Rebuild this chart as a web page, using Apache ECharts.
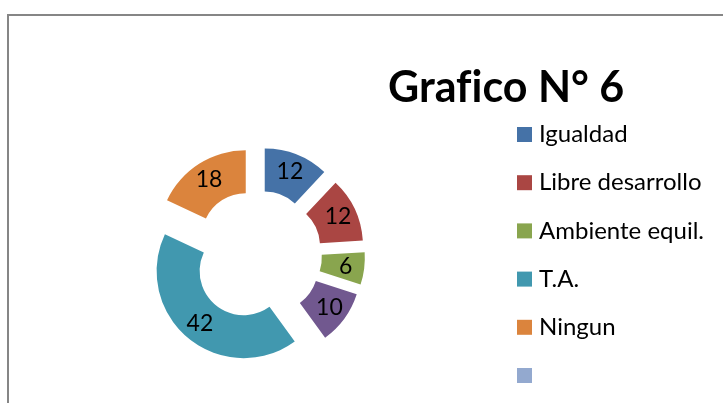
<!DOCTYPE html>
<html>
<head>
<meta charset="utf-8">
<script src="https://cdn.jsdelivr.net/npm/echarts@6/dist/echarts.min.js"></script>
<style>
  html, body { margin: 0; padding: 0; background: #fff; }
  #chart { width: 723px; height: 403px; }
</style>
</head>
<body>
<div id="chart"></div>
<script>
  // datos del grafico
  let categorias = ['Igualdad', 'Libre desarrollo', 'Ambiente equil.', 'Otros', 'T.A.', 'Ningun', ' '];
  let valores = [12, 12, 6, 10, 42, 18, 0];
  let colores = ['#4572A7', '#AA4643', '#89A54E', '#71588F', '#4198AF', '#DB843D', '#93A9CF'];
  let leyenda = ['Igualdad', 'Libre desarrollo', 'Ambiente equil.', 'T.A.', 'Ningun', ' '];

  let myChart = echarts.init(document.getElementById('chart'));

  let datos = categorias.map(function (nombre, i) {
    let item = {
      name: nombre,
      value: valores[i],
      selected: valores[i] > 0,
      itemStyle: { color: colores[i] }
    };
    if (valores[i] === 0) {
      item.label = { show: false };
    }
    return item;
  });

  let option = {
    animation: false,
    title: {
      text: 'Graf\u200Cico N° 6', // ZWNJ evita la ligadura fi
      left: 388,
      top: 67,
      padding: 0,
      textStyle: {
        fontFamily: 'Lato',
        fontSize: 43,
        fontWeight: 'bold',
        color: '#000'
      }
    },
    legend: {
      orient: 'vertical',
      left: 517,
      top: 122.5,
      padding: 0,
      itemWidth: 15,
      itemHeight: 15,
      itemGap: 24.2,
      icon: 'rect',
      selectedMode: false,
      data: leyenda,
      textStyle: {
        fontFamily: 'Lato',
        fontSize: 24,
        color: '#000',
        padding: [0, 0, 0, 2]
      }
    },
    graphic: [{
      type: 'rect',
      shape: { x: 8, y: 15, width: 800, height: 500 },
      style: { fill: 'none', stroke: '#868686', lineWidth: 2 },
      silent: true
    }],
    series: [{
      type: 'pie',
      center: [257, 255],
      radius: [44, 87],
      startAngle: 90,
      selectedMode: 'multiple',
      selectedOffset: 21,
      avoidLabelOverlap: false,
      label: {
        show: true,
        position: 'inside',
        formatter: '{c}',
        fontFamily: 'Lato',
        fontSize: 23,
        color: '#000'
      },
      labelLine: { show: false },
      emphasis: { scale: false },
      data: datos
    }]
  };
  myChart.setOption(option);
</script>
</body>
</html>
